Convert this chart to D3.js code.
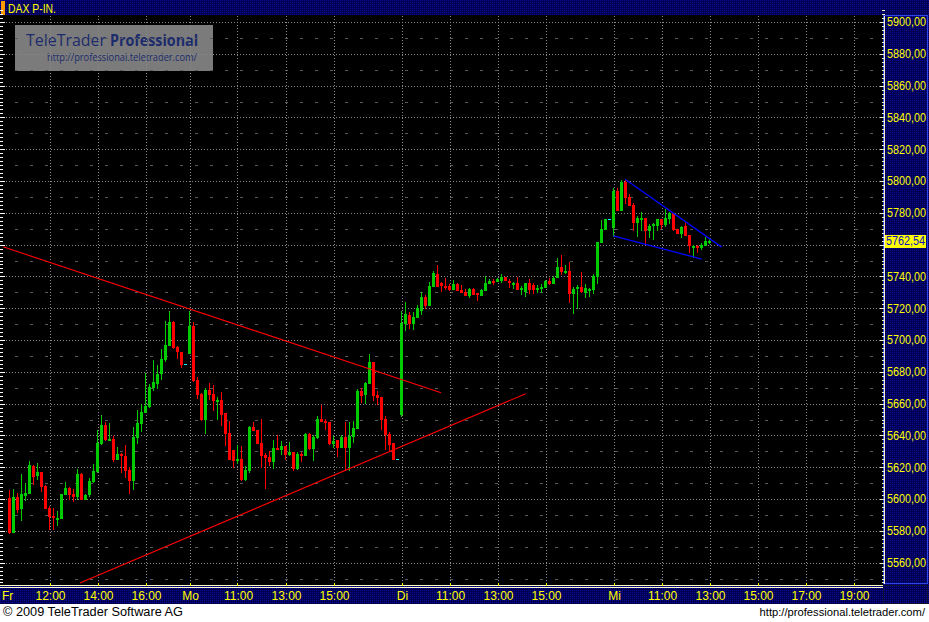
<!DOCTYPE html>
<html><head><meta charset="utf-8">
<script src="https://cdn.jsdelivr.net/npm/d3@7/dist/d3.min.js"></script>
<style>body{margin:0;background:#fff;overflow:hidden}svg{display:block}</style>
</head><body>
<script>
// ---- DATA (10-minute bars, slot index; null = day break slot) ----
const title = "DAX P-IN.";
const lastPrice = 5762.54;
const open = [5600.8,5579.4,5601.3,5594.3,5602.5,5603.8,5620.8,5615.1,5617.0,5608.2,5594.3,5589.3,5587.4,5588.0,5603.1,5606.9,5603.1,5601.9,5615.7,5600.0,5603.1,5611.3,5617.6,5635.2,5646.5,5637.1,5637.7,5625.2,5628.3,5627.0,5618.2,5611.9,5639.2,5647.8,5654.7,5658.5,5670.4,5673.1,5679.2,5688.0,5696.9,5711.3,5695.6,5692.5,null,
5691.8,5708.8,5674.8,5666.0,5650.3,5668.6,5666.0,5661.6,5662.3,5654.1,5641.5,5630.8,5624.5,5625.2,5612.6,5618.2,5645.5,5643.4,5635.2,5627.7,5626.4,5623.9,5632.1,5631.4,5633.5,5628.3,5629.6,5619.7,5628.3,5627.7,5640.9,5632.1,5639.2,5650.3,5649.1,5648.4,5635.2,5637.1,5632.9,5639.0,5632.9,5639.8,5644.7,5668.1,5666.0,5673.0,5686.2,5665.4,5664.1,5650.3,5640.9,5635.4,null,
5653.5,5710.9,5715.7,5710.9,5714.7,5718.9,5727.2,5722.0,5734.1,5741.5,5735.8,5734.1,5734.1,5732.1,5735.2,5731.4,5730.4,5728.3,5732.1,5729.4,5728.3,5731.4,5736.0,5737.1,5737.1,5737.7,5739.8,5737.1,5735.2,5736.0,5731.9,5731.0,5736.0,5734.6,5731.9,5732.9,5733.5,5737.1,5736.0,5739.4,5745.7,5742.8,5743.4,5729.4,5732.5,5733.1,5730.0,5731.4,5731.9,5740.2,5761.8,5769.6,null,
5771.3,5793.7,5781.8,5799.6,5790.1,5784.9,5774.4,5776.3,5776.9,5769.2,5772.1,5772.1,5775.9,5772.8,5776.5,5779.7,5769.6,5767.5,5771.7,5766.0,5758.7,5759.3,5758.7,5759.7,5761.8];
const high = [5605.7,5606.3,5603.8,5615.7,5610.1,5623.9,5621.4,5622.6,5617.0,5608.8,5595.6,5594.3,5592.5,5603.1,5610.7,5607.5,5606.3,5618.9,5616.4,5603.1,5613.2,5622.0,5643.4,5652.8,5648.4,5647.8,5639.6,5632.7,5628.9,5634.0,5620.1,5645.3,5656.0,5659.7,5679.4,5672.3,5687.4,5684.3,5694.3,5711.9,5718.2,5711.9,5696.4,5692.5,null,
5718.2,5711.3,5676.7,5666.9,5669.8,5673.0,5671.7,5664.3,5667.3,5654.1,5649.1,5630.8,5634.0,5633.3,5620.8,5645.9,5648.4,5643.4,5650.3,5628.9,5630.2,5637.1,5640.3,5636.5,5633.5,5635.8,5629.6,5629.3,5629.6,5641.5,5641.5,5640.3,5652.2,5659.1,5650.3,5648.4,5639.6,5637.1,5640.3,5648.6,5648.6,5649.1,5669.2,5669.8,5673.8,5691.2,5686.2,5668.1,5664.1,5652.2,5642.3,5635.4,null,
5718.2,5724.1,5717.6,5717.4,5722.0,5730.2,5728.3,5736.5,5743.4,5747.4,5736.7,5739.2,5735.2,5737.7,5736.0,5734.6,5732.1,5732.9,5732.9,5729.7,5732.1,5740.2,5738.4,5738.4,5739.0,5741.5,5739.8,5738.2,5736.7,5739.4,5734.0,5736.0,5738.2,5735.6,5734.6,5735.0,5737.7,5739.2,5740.2,5751.4,5753.5,5747.2,5749.2,5733.1,5734.6,5743.0,5735.0,5732.9,5741.3,5761.8,5775.5,5775.9,null,
5795.4,5795.4,5800.6,5800.6,5791.8,5786.4,5778.0,5780.7,5776.9,5773.0,5773.4,5775.9,5775.9,5782.2,5780.7,5780.1,5769.6,5771.7,5773.4,5766.0,5759.7,5759.7,5760.8,5765.0,5763.3];
const low = [5578.6,5579.2,5592.0,5586.8,5599.4,5603.8,5609.4,5612.6,5605.0,5594.3,5581.1,5581.1,5583.6,5588.0,5603.1,5600.0,5598.7,5600.0,5600.0,5600.0,5601.9,5610.7,5617.0,5634.6,5637.1,5637.1,5623.9,5625.2,5617.0,5613.8,5603.8,5606.3,5635.4,5642.8,5654.7,5657.9,5668.6,5669.8,5675.5,5687.0,5696.9,5695.2,5688.7,5683.2,null,
5691.8,5674.2,5663.7,5649.7,5641.7,5662.9,5656.0,5650.3,5646.5,5634.0,5625.2,5620.1,5622.6,5611.9,5611.9,5617.2,5643.4,5635.2,5620.3,5607.1,5621.4,5619.5,5631.4,5628.3,5625.3,5627.7,5618.2,5618.9,5624.1,5627.5,5631.4,5624.5,5638.6,5649.1,5644.2,5634.6,5632.9,5627.2,5632.9,5618.2,5618.2,5636.0,5644.7,5661.2,5660.4,5673.0,5662.3,5659.7,5644.0,5631.4,5630.8,5625.2,null,
5652.4,5706.3,5707.7,5706.9,5714.7,5716.4,5720.1,5722.0,5734.1,5734.1,5731.0,5732.1,5731.4,5732.1,5731.4,5730.4,5728.3,5727.2,5728.9,5725.2,5728.3,5731.4,5736.0,5735.2,5737.1,5736.3,5737.7,5733.1,5732.5,5732.1,5728.9,5727.9,5729.7,5729.7,5730.4,5730.4,5733.1,5735.2,5735.6,5739.4,5741.5,5741.9,5723.7,5716.8,5719.9,5730.4,5727.2,5727.7,5729.4,5736.0,5761.8,5769.6,null,
5765.4,5781.8,5781.8,5786.0,5784.9,5769.2,5765.4,5769.2,5760.4,5765.0,5763.7,5769.2,5770.6,5771.9,5773.4,5769.2,5767.1,5764.6,5766.0,5755.5,5752.4,5755.5,5757.0,5759.7,5760.8];
const close = [5579.4,5601.3,5593.7,5603.1,5603.8,5621.4,5614.5,5617.0,5608.2,5594.3,5589.3,5588.7,5588.0,5603.1,5606.9,5603.1,5601.9,5615.7,5600.0,5602.5,5611.3,5617.6,5635.2,5646.5,5637.7,5637.7,5625.2,5628.3,5627.7,5618.2,5611.9,5639.0,5647.8,5654.7,5658.5,5670.4,5673.6,5678.6,5688.0,5696.9,5711.3,5695.6,5693.1,5684.9,null,
5708.8,5674.8,5666.0,5650.3,5668.6,5666.0,5662.3,5662.3,5653.5,5641.7,5625.2,5624.5,5625.2,5612.6,5618.2,5645.5,5643.4,5635.2,5627.7,5626.6,5623.9,5632.1,5631.4,5633.5,5628.3,5629.6,5619.7,5628.3,5627.9,5640.9,5632.1,5639.2,5650.3,5649.1,5648.4,5635.2,5636.5,5632.9,5639.2,5632.9,5639.8,5644.7,5668.1,5665.4,5673.0,5686.2,5665.4,5664.1,5650.3,5640.9,5634.6,5625.2,null,
5710.9,5716.4,5710.9,5714.7,5720.1,5727.2,5722.0,5734.1,5742.3,5734.1,5734.6,5733.5,5732.1,5735.2,5731.4,5730.4,5728.3,5732.1,5728.9,5728.7,5731.4,5736.0,5737.1,5736.5,5738.2,5739.8,5737.7,5736.3,5735.8,5732.1,5732.5,5736.0,5731.9,5731.9,5732.5,5733.5,5737.1,5736.0,5739.2,5745.7,5743.6,5743.4,5729.4,5732.1,5733.5,5730.8,5732.9,5731.9,5740.2,5761.8,5769.6,5775.9,null,
5793.7,5781.8,5799.6,5790.1,5784.9,5774.4,5776.5,5776.9,5769.2,5771.7,5772.8,5775.9,5772.8,5776.5,5779.7,5769.6,5767.1,5770.9,5766.0,5759.7,5759.3,5758.3,5759.7,5762.3,5762.54];

const xTickLabels = ["Fr","12:00","14:00","16:00","Mo","11:00","13:00","15:00","Di","11:00","13:00","15:00","Mi","11:00","13:00","15:00","17:00","19:00"];
const xTickSlots  = [null,10,22,34,45,57,69,81,98,110,122,134,151,163,175,187,199,211];
const yTickValues = [5560,5580,5600,5620,5640,5660,5680,5700,5720,5740,5760,5780,5800,5820,5840,5860,5880,5900];

// trend lines: [slot, price] pairs
const redLines = [[[-1.6,5758.6],[107.9,5666.8]], [[17.6,5547.1],[129.05,5666.2]]];
const blueLines = [[[153.9,5801.1],[178.05,5758.4]], [[150.95,5765.5],[173.05,5750.9]]];

// ---- LAYOUT ----
const W = 929, H = 622;
const P = {l:3, r:883, t:16, b:584};
const x = d3.scaleLinear().domain([0, 218]).range([9.5, 9.5 + 4*218]);
const y = d3.scaleLinear().domain([5560, 5900]).range([562.6, 22]);
const GREEN = "#00cc00", RED = "#ff0000", YEL = "#ffff00";
const fmt = v => d3.format(".2f")(v).replace(".", ",");
const FONT = "Liberation Sans, Arial, sans-serif";

const svg = d3.select("body").append("svg").attr("width", W).attr("height", H);
const defs = svg.append("defs");
const pat = defs.append("pattern").attr("id","navy").attr("width",2).attr("height",2).attr("patternUnits","userSpaceOnUse");
pat.append("rect").attr("width",2).attr("height",2).attr("fill","#00005a");
pat.append("rect").attr("width",1).attr("height",1).attr("fill","#0a0a8c");
pat.append("rect").attr("x",1).attr("y",1).attr("width",1).attr("height",1).attr("fill","#000048");
defs.append("clipPath").attr("id","plotclip").append("rect")
  .attr("x",P.l).attr("y",P.t).attr("width",P.r-P.l).attr("height",P.b-P.t);

svg.append("rect").attr("width",W).attr("height",H).attr("fill","#ffffff");
svg.append("rect").attr("width",W).attr("height",P.b+2).attr("fill","#000000");

// header
svg.append("rect").attr("x",0).attr("y",0).attr("width",W).attr("height",15).attr("fill","url(#navy)");
svg.append("rect").attr("x",1).attr("y",1).attr("width",4).attr("height",14).attr("fill","#ff9900");
svg.append("text").attr("x",8).attr("y",12.5).text(title)
  .attr("font-family",FONT).attr("font-size",12)
  .attr("textLength",48).attr("lengthAdjust","spacingAndGlyphs").attr("fill",YEL);

// logo
const logo = svg.append("g");
logo.append("rect").attr("x",15).attr("y",25).attr("width",198).attr("height",46).attr("fill","#7b7b7b");
logo.append("text").attr("x",26).attr("y",46).text("TeleTrader")
  .attr("font-family","Open Sans, Liberation Sans, sans-serif").attr("font-size",16.5).attr("fill","#1c2b6c")
  .attr("textLength",80).attr("lengthAdjust","spacingAndGlyphs");
logo.append("text").attr("x",110).attr("y",46).text("Professional")
  .attr("font-family","Open Sans, Liberation Sans, sans-serif").attr("font-size",16.5).attr("font-weight","bold").attr("fill","#1c2b6c")
  .attr("textLength",88).attr("lengthAdjust","spacingAndGlyphs");
logo.append("text").attr("x",47).attr("y",60.5).text("http://professional.teletrader.com/")
  .attr("font-family","Open Sans, Liberation Sans, sans-serif").attr("font-size",10).attr("fill","#1c2b6c")
  .attr("textLength",150).attr("lengthAdjust","spacingAndGlyphs");

// grid
const grid = svg.append("g").attr("clip-path","url(#plotclip)");
yTickValues.forEach(v => {
  const yy = Math.round(y(v)) + 0.5;
  grid.append("line").attr("x1",P.l).attr("x2",P.r).attr("y1",yy).attr("y2",yy)
    .attr("stroke","#8a8a8a").attr("stroke-dasharray","1,2");
});
d3.range(5550, 5910, 20).forEach(v => {
  const yy = Math.round(y(v)) + 0.5;
  grid.append("line").attr("x1",15).attr("x2",P.r).attr("y1",yy).attr("y2",yy)
    .attr("stroke","#5a5a5a").attr("stroke-dasharray","3,12");
});
xTickSlots.forEach(s => {
  if (s === null) return;
  const xx = Math.round(x(s)) + 0.5;
  grid.append("line").attr("x1",xx).attr("x2",xx).attr("y1",P.t).attr("y2",P.b)
    .attr("stroke","#8a8a8a").attr("stroke-dasharray","1,2");
});

// left ruler
const ruler = svg.append("g");
d3.range(5545, 5910, 2.5).forEach(v => {
  const yy = Math.round(y(v)) + 0.5;
  const long = (v % 20 === 0);
  ruler.append("line").attr("x1",0).attr("x2",long?5:3).attr("y1",yy).attr("y2",yy).attr("stroke","#ffffff");
});

// candles
const bars = d3.range(open.length).filter(i => open[i] !== null);
const cg = svg.append("g").attr("clip-path","url(#plotclip)");
bars.forEach(i => {
  const col = close[i] >= open[i] ? GREEN : RED;
  const cx = x(i);
  cg.append("line").attr("x1",cx).attr("x2",cx).attr("y1",Math.round(y(high[i]))).attr("y2",Math.round(y(low[i]))+1)
    .attr("stroke",col).attr("stroke-width",1);
  const top = Math.round(y(Math.max(open[i],close[i])));
  const bot = Math.round(y(Math.min(open[i],close[i])));
  cg.append("rect").attr("x",cx-1.5).attr("y",top).attr("width",3).attr("height",Math.max(1,bot-top+1)).attr("fill",col);
});
// previous close markers at day-break slots
d3.range(open.length).filter(i => open[i] === null).forEach(i => {
  cg.append("rect").attr("x",x(i)-1.5).attr("y",Math.round(y(close[i-1]))).attr("width",3).attr("height",1).attr("fill","#00ffff");
});

// trend lines
const lg = svg.append("g").attr("clip-path","url(#plotclip)");
redLines.forEach(l => lg.append("line").attr("x1",x(l[0][0])).attr("y1",y(l[0][1])).attr("x2",x(l[1][0])).attr("y2",y(l[1][1]))
  .attr("stroke","#ff0000").attr("stroke-width",1.1));
blueLines.forEach(l => lg.append("line").attr("x1",x(l[0][0])).attr("y1",y(l[0][1])).attr("x2",x(l[1][0])).attr("y2",y(l[1][1]))
  .attr("stroke","#0000ff").attr("stroke-width",1.3));

// right axis panel
svg.append("rect").attr("x",883).attr("y",15).attr("width",46).attr("height",570).attr("fill","url(#navy)");
svg.append("rect").attr("x",883.5).attr("y",15.5).attr("width",44).attr("height",568).attr("fill","none").attr("stroke","#2a48e0");
const yr = svg.append("g");
yr.append("line").attr("x1",884.5).attr("x2",884.5).attr("y1",16).attr("y2",584).attr("stroke","#f0f0d0");
d3.range(5545, 5910, 2.5).forEach(v => {
  const yy = Math.round(y(v)) + 0.5;
  const long = (v % 20 === 0);
  yr.append("line").attr("x1",long?880:882).attr("x2",885).attr("y1",yy).attr("y2",yy).attr("stroke","#f0f0d0");
});
yTickValues.filter(v => Math.abs(v - lastPrice) > 6).forEach(v => {
  yr.append("text").attr("x",887).attr("y",y(v)).attr("dy","0.36em").text(fmt(v))
    .attr("font-family",FONT).attr("font-size",12)
    .attr("textLength",39).attr("lengthAdjust","spacingAndGlyphs").attr("fill",YEL);
});
// last price box (covers the 5760 level label as in the original)
const ly = y(lastPrice);
yr.append("rect").attr("x",885).attr("y",Math.round(ly)-6).attr("width",41).attr("height",13).attr("fill","#ffff00");
yr.append("text").attr("x",886).attr("y",ly).attr("dy","0.36em").text(fmt(lastPrice))
  .attr("font-family",FONT).attr("font-size",12)
  .attr("textLength",39).attr("lengthAdjust","spacingAndGlyphs").attr("fill","#1010c0");

// x axis panel
svg.append("rect").attr("x",0).attr("y",585).attr("width",883).attr("height",19).attr("fill","url(#navy)");
svg.append("rect").attr("x",883).attr("y",585).attr("width",46).attr("height",19).attr("fill","url(#navy)");
svg.append("rect").attr("x",883.5).attr("y",585.5).attr("width",44).attr("height",18).attr("fill","none").attr("stroke","#101030");
svg.append("line").attr("x1",0).attr("x2",883).attr("y1",585.5).attr("y2",585.5).attr("stroke","#ffffc0");
svg.append("line").attr("x1",0).attr("x2",883).attr("y1",587.5).attr("y2",587.5).attr("stroke","#ffffc0");
const xa = svg.append("g");
xTickLabels.forEach((lab, k) => {
  const s = xTickSlots[k];
  if (s !== null) {
    const xx = Math.round(x(s)) + 0.5;
    xa.append("line").attr("x1",xx).attr("x2",xx).attr("y1",583).attr("y2",586).attr("stroke",YEL);
  }
  xa.append("text").attr("x", s === null ? 2 : x(s)+1).attr("y",596).attr("dy","0.36em")
    .attr("text-anchor", s === null ? "start" : "middle").text(lab)
    .attr("font-family",FONT).attr("font-size",12).attr("fill",YEL);
});

// footer
svg.append("text").attr("x",3).attr("y",616).text("\u00a9 2009 TeleTrader Software AG")
  .attr("font-family",FONT).attr("font-size",12).attr("fill","#000")
  .attr("textLength",180).attr("lengthAdjust","spacingAndGlyphs");
svg.append("text").attr("x",925).attr("y",616).attr("text-anchor","end").text("http://professional.teletrader.com/")
  .attr("font-family",FONT).attr("font-size",11.2).attr("fill","#000");
</script>
</body></html>
